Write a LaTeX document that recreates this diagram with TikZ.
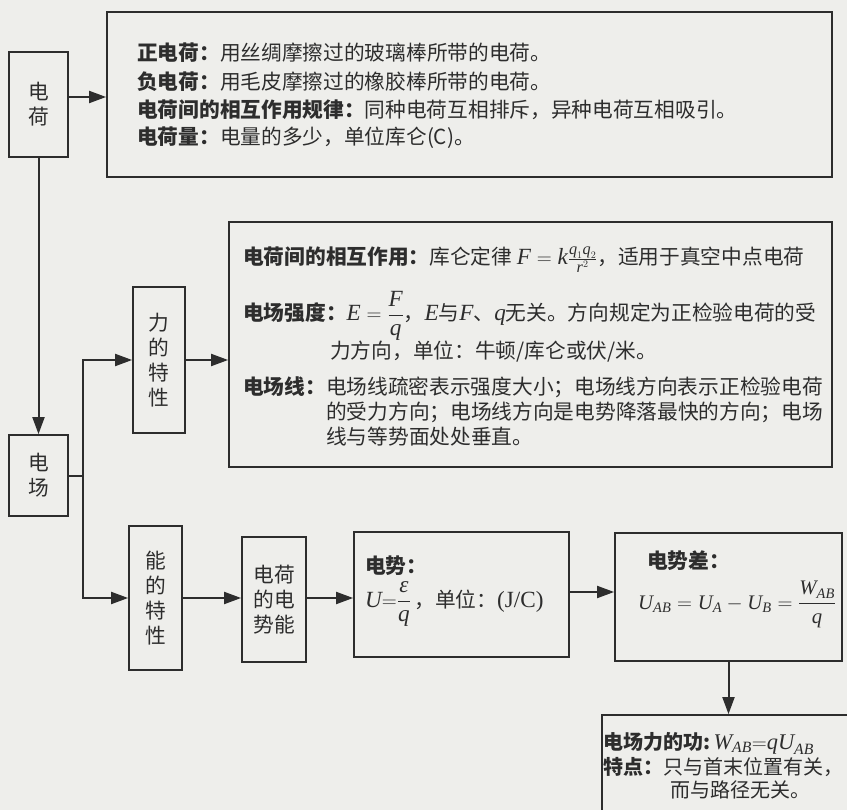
\documentclass[tikz,border=0pt]{standalone}
\usepackage{amsmath}
\usepackage{fontspec}
\setmainfont{Liberation Serif}
\newfontfamily\cjk{Noto Sans CJK SC}
\newfontfamily\bigserif{Liberation Serif}[Scale=1.12]
\newcommand\mi[1]{\text{\bigserif\itshape #1}}
\newcommand\ms[1]{\text{\rmfamily\itshape #1}}
\usetikzlibrary{arrows.meta}
\definecolor{ink}{RGB}{45,45,45}
\definecolor{paper}{RGB}{238,238,235}
\begin{document}
\begin{tikzpicture}[x=1pt,y=-1pt,
  box/.style={draw=ink, line width=1.8pt, inner sep=0pt, align=center, text=ink,
    font=\cjk\fontsize{20.7}{25}\selectfont},
  arr/.style={draw=ink, line width=2pt, -{Triangle[length=17pt,width=12pt]}},
  txt/.style={anchor=base west, inner sep=0pt, text=ink,
    font=\cjk\fontsize{20.7}{25}\selectfont},
  stxt/.style={txt, font=\cjk\fontsize{20}{25}\selectfont}]
\fill[paper] (0,0) rectangle (847,810);
\useasboundingbox (0,0) rectangle (847,810);
\clip (0,0) rectangle (847,810);

% boxes
\node[box, minimum width=59pt, minimum height=105pt] (dh) at (38.5,104.5) {电\\荷};
\node[box, minimum width=725pt, minimum height=165pt] (top) at (469.5,94.5) {};
\node[box, minimum width=59pt, minimum height=81pt] (dc) at (38.5,475.5) {电\\场};
\node[box, minimum width=52pt, minimum height=146pt] (li) at (159,360) {力\\的\\特\\性};
\node[box, minimum width=603pt, minimum height=245pt] (mid) at (530.5,344.5) {};
\node[box, minimum width=53pt, minimum height=144pt] (neng) at (155.5,598) {能\\的\\特\\性};
\node[box, minimum width=64pt, minimum height=125pt] (sn) at (274,599.5) {电荷\\的电\\势能};
\node[box, minimum width=215pt, minimum height=125pt] (ds) at (461.5,594.5) {};
\node[box, minimum width=227pt, minimum height=128pt] (dsc) at (728.5,597) {};
\node[box, minimum width=278pt, minimum height=125pt] (gong) at (741,777.5) {};

% top box text
\node[txt] (t1) at (137,61) {\textbf{正电荷：}用丝绸摩擦过的玻璃棒所带的电荷。};
\node[txt] (t2) at (137,90) {\textbf{负电荷：}用毛皮摩擦过的橡胶棒所带的电荷。};
\node[txt] (t3) at (137,118) {\textbf{电荷间的相互作用规律：}同种电荷互相排斥，异种电荷互相吸引。};
\node[txt] (t4) at (137,145) {\textbf{电荷量：}电量的多少，单位库仑(C)。};

% middle box text
\node[txt] (m1) at (243,265) {\textbf{电荷间的相互作用：}库仑定律 $\mi{F}=\mi{k}\frac{\mi{q}_1\mi{q}_2}{\mi{r}^2}$，适用于真空中点电荷};
\node[txt] (m2) at (243,321) {\textbf{电场强度：}$\mi{E}=\dfrac{\mi{F}}{\mi{q}}$，$\mi{E}$与$\mi{F}$、$\mi{q}$无关。方向规定为正检验电荷的受};
\node[txt] (m3) at (330,359) {力方向，单位：牛顿/库仑或伏/米。};
\node[txt] (m4) at (243,395) {\textbf{电场线：}电场线疏密表示强度大小；电场线方向表示正检验电荷};
\node[txt] (m5) at (326,420) {的受力方向；电场线方向是电势降落最快的方向；电场};
\node[txt] (m6) at (326,445) {线与等势面处处垂直。};

% potential box
\node[txt] (p1) at (365,573) {\textbf{电势：}};
\node[txt] (p2) at (365,607) {$\mi{U}{=}\dfrac{\mi{ε}}{\mi{q}}$\,，单位：{\bigserif(J/C)}};

% potential difference box
\node[txt] (q1) at (647,568) {\textbf{电势差：}};
\node[txt] (q2) at (638,609) {$\ms{U}_{\ms{AB}}=\ms{U}_{\ms{A}}-\ms{U}_{\ms{B}}=\dfrac{\ms{W}_{\ms{AB}}}{\ms{q}}$};

% work box
\node[stxt] (w1) at (603,749) {\textbf{电场力的功:}\,$\mi{W}_{\mi{AB}}{=}\mi{qU}_{\mi{AB}}$};
\node[stxt] (w2) at (603,774) {\textbf{特点：}只与首末位置有关，};
\node[stxt] (w3) at (670,797) {而与路径无关。};

% connectors
\coordinate (a1) at (0,97);
\coordinate (j) at (83,476);
\coordinate (a2) at (0,592);
\draw[arr] (dh.east |- a1) -- (top.west |- a1);
\draw[arr] (dh.south) -- (dc.north);
\draw[arr] (dc.east |- j) -- (j) |- (li.west);
\draw[arr] (j) |- (neng.west);
\draw[arr] (li.east) -- (mid.west |- li.east);
\draw[arr] (neng.east) -- (sn.west |- neng.east);
\draw[arr] (sn.east |- neng.east) -- (ds.west |- neng.east);
\draw[arr] (ds.east |- a2) -- (dsc.west |- a2);
\draw[arr] (dsc.south) -- (dsc.south |- gong.north);
\end{tikzpicture}
\end{document}
